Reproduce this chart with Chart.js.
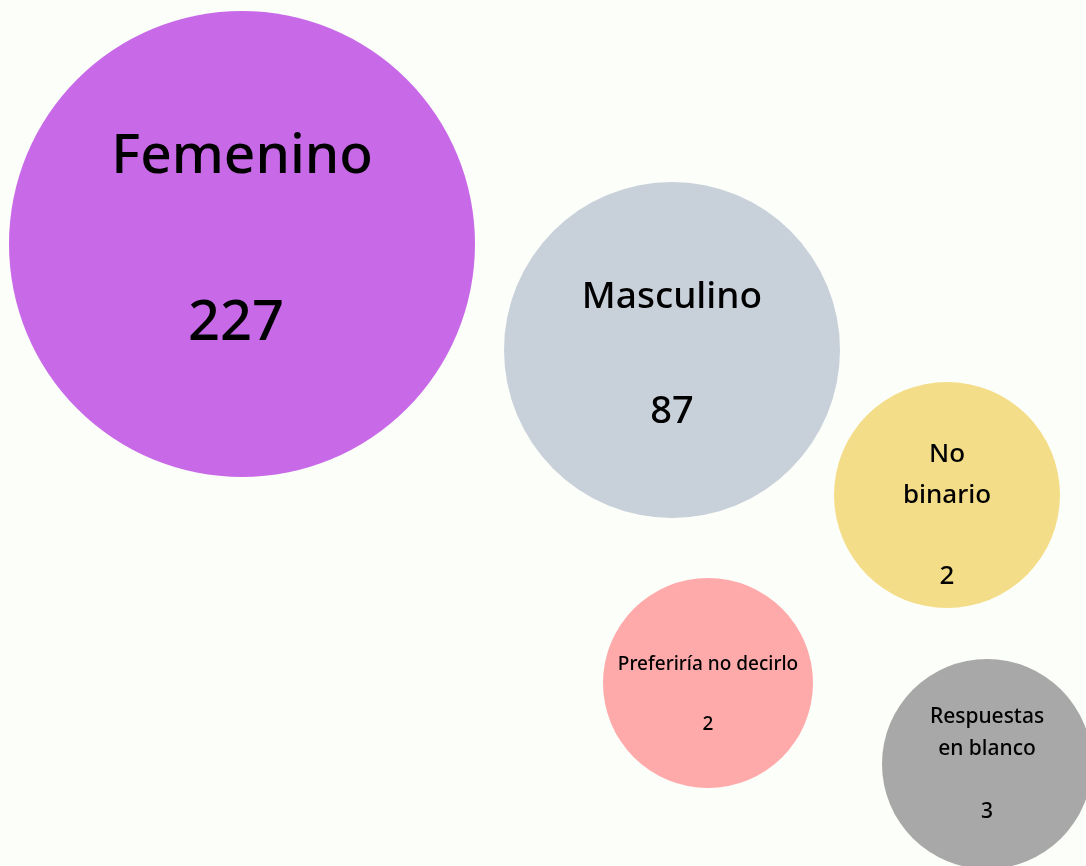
<!DOCTYPE html>
<html>
<head>
<meta charset="utf-8">
<script src="https://cdn.jsdelivr.net/npm/chart.js@4"></script>
<style>
  html, body { margin: 0; padding: 0; background: #fcfef9; }
  #wrap { width: 1086px; height: 866px; }
</style>
</head>
<body>
<div id="wrap"><canvas id="chart"></canvas></div>
<script>
// datos
const categorias = ['Femenino', 'Masculino', 'No binario', 'Preferiría no decirlo', 'Respuestas en blanco'];
const respuestas = [227, 87, 2, 2, 3];

// disposición de las burbujas (posición y radio en px)
const burbujaX = [242, 672, 947, 708, 987];
const burbujaY = [244, 350, 495, 683, 764];
const burbujaR = [233, 168, 113, 105, 105];

const colores = ['#c86ae8', '#c8d0da', '#f4dd88', '#ffaaaa', '#a8a8a8'];

// como se escribe cada etiqueta dentro de su burbuja
const estilosTexto = [
  { lineas: ['Femenino'], lineaY: [-71], valorY: 96, tam: 55, tamValor: 56, dx: -6 },
  { lineas: ['Masculino'], lineaY: [-42], valorY: 73, tam: 37, tamValor: 38, dx: 0 },
  { lineas: ['No', 'binario'], lineaY: [-33, 8], valorY: 89, tam: 26, tamValor: 26, dx: 0 },
  { lineas: ['Preferiría no decirlo'], lineaY: [-13], valorY: 47, tam: 19, tamValor: 19, dx: 0 },
  { lineas: ['Respuestas', 'en blanco'], lineaY: [-41, -9], valorY: 54, tam: 21, tamValor: 21, dx: 0 }
];

const FUENTE = '"Noto Sans", sans-serif';

const etiquetasBurbujas = {
  id: 'etiquetasBurbujas',
  afterDatasetsDraw(chart) {
    const ctx = chart.ctx;
    const meta = chart.getDatasetMeta(0);
    ctx.save();
    ctx.fillStyle = '#000';
    ctx.textAlign = 'center';
    ctx.textBaseline = 'alphabetic';
    meta.data.forEach((el, i) => {
      const st = estilosTexto[i];
      ctx.font = '500 ' + st.tam + 'px ' + FUENTE;
      st.lineas.forEach((l, j) => ctx.fillText(l, el.x, el.y + st.lineaY[j]));
      ctx.font = '500 ' + st.tamValor + 'px ' + FUENTE;
      ctx.fillText(String(respuestas[i]), el.x + st.dx, el.y + st.valorY);
    });
    ctx.restore();
  }
};

new Chart(document.getElementById('chart'), {
  type: 'bubble',
  data: {
    labels: categorias,
    datasets: [{
      label: 'Género',
      data: categorias.map((c, i) => ({ x: burbujaX[i], y: burbujaY[i], r: burbujaR[i] })),
      backgroundColor: colores,
      hoverBackgroundColor: colores,
      borderWidth: 0,
      hoverBorderWidth: 0,
      clip: false
    }]
  },
  options: {
    responsive: true,
    maintainAspectRatio: false,
    animation: false,
    layout: { padding: 0, autoPadding: false },
    plugins: { legend: { display: false }, tooltip: { enabled: false } },
    scales: {
      x: { type: 'linear', min: 0, max: 1086, display: false },
      y: { type: 'linear', min: 0, max: 866, reverse: true, display: false }
    }
  },
  plugins: [etiquetasBurbujas]
});
</script>
</body>
</html>
